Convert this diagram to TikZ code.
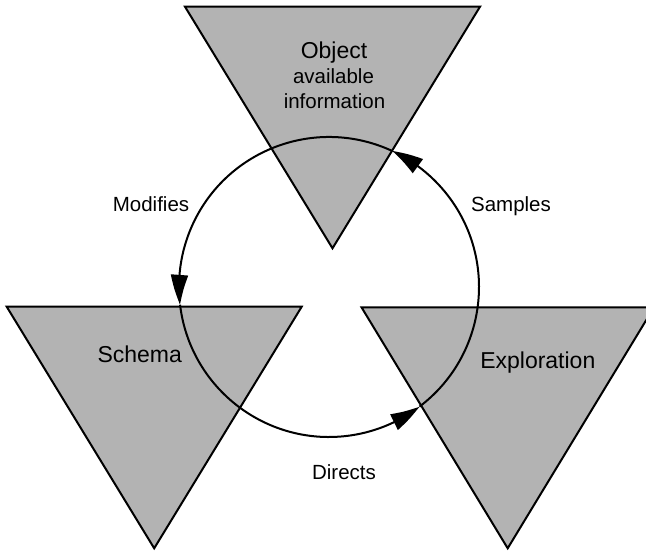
\documentclass[tikz,border=0pt]{standalone}
\usepackage{fontspec}
\setmainfont{Liberation Sans}
\usetikzlibrary{arrows.meta,bending}
\definecolor{trifill}{RGB}{179,179,179}
\tikzset{
  tri/.style={fill=trifill, draw=black, line width=2pt, line join=miter},
  cycle line/.style={draw=black, line width=2pt},
  cycle arrow/.style={cycle line, -{Triangle[length=30pt,width=17pt,bend]}},
  big label/.style={anchor=base, inner sep=0pt, font=\fontsize{23}{26}\selectfont},
  small label/.style={anchor=base, inner sep=0pt, font=\fontsize{20.5}{24}\selectfont}
}
\begin{document}
\begin{tikzpicture}[x=1pt,y=-1pt]
  \useasboundingbox (0,0) rectangle (646,553);
  \clip (0,0) rectangle (646,553);

  % corners of the three inverted triangles
  \coordinate (objL) at (185,6.7);
  \coordinate (objR) at (480,6.7);
  \coordinate (objA) at (332.5,248.3);
  \coordinate (schL) at (6.7,306.7);
  \coordinate (schR) at (301.7,306.7);
  \coordinate (schA) at (154.2,548.3);
  \coordinate (expL) at (361.5,307.3);
  \coordinate (expR) at (654,307.3);
  \coordinate (expA) at (507.7,548.3);

  \path[tri] (objL) -- (objR) -- (objA) -- cycle;
  \path[tri] (schL) -- (schR) -- (schA) -- cycle;
  \path[tri] (expL) -- (expR) -- (expA) -- cycle;

  % the cycle: centre and the three arrow tips on it
  \coordinate (ctr) at (329,287);
  \path (ctr) ++(-65.1:150) coordinate (tipSamples)
        (ctr) ++(173.2:150) coordinate (tipModifies)
        (ctr) ++(52.9:150)  coordinate (tipDirects);

  \draw[cycle arrow] (tipDirects)  arc[start angle=52.9,  end angle=-65.1, radius=150];
  \draw[cycle arrow] (tipSamples)  arc[start angle=294.9, end angle=173.2, radius=150];
  \draw[cycle arrow] (tipModifies) arc[start angle=173.2, end angle=52.9,  radius=150];

  % labels
  \node[big label]   (object)  at (334,58.3)    {Object};
  \node[small label] (avail)   at (333.5,83.3)  {available};
  \node[small label] (info)    at (334.5,109)   {information};
  \node[big label]   (schema)  at (139.7,362.7) {Schema};
  \node[big label]   (explo)   at (537.8,368.3) {Exploration};
  \node[small label] (modif)   at (151,211.7)   {Modifies};
  \node[small label] (samples) at (511,211.7)   {Samples};
  \node[small label] (directs) at (344,479.3)   {Directs};
\end{tikzpicture}
\end{document}
